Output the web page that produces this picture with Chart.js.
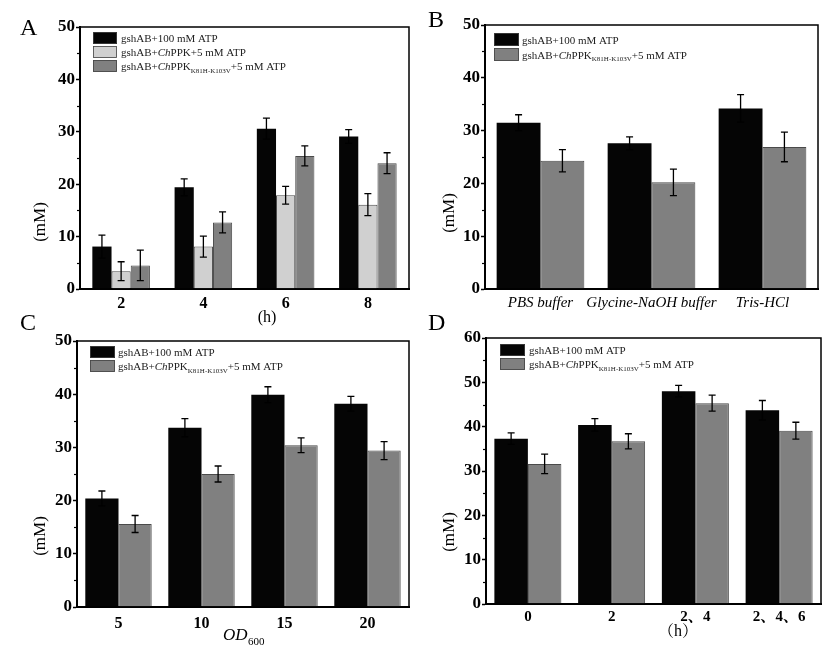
<!DOCTYPE html>
<html><head><meta charset="utf-8">
<script src="https://cdn.jsdelivr.net/npm/chart.js@4"></script>
<style>
html,body{margin:0;padding:0;background:#fff;width:830px;height:652px;overflow:hidden;position:relative;}
canvas{position:absolute;}
</style></head><body>
<canvas id="cA" width="415" height="330" style="left:0;top:0"></canvas>
<canvas id="cB" width="415" height="330" style="left:415px;top:0"></canvas>
<canvas id="cC" width="415" height="347" style="left:0;top:305px"></canvas>
<canvas id="cD" width="415" height="347" style="left:415px;top:305px"></canvas>
<script>
// ---- Data ----
const hoursA = ['2', '4', '6', '8'];
const atp100A = [8.1, 19.4, 30.6, 29.1];
const atp100A_err = [2.2, 1.6, 2.0, 1.3];
const chPPKA = [3.4, 8.1, 17.9, 16.1];
const chPPKA_err = [1.8, 2.0, 1.7, 2.1];
const mutA = [4.5, 12.7, 25.4, 24.0];
const mutA_err = [2.9, 2.0, 1.9, 2.0];

const buffersB = ['PBS buffer', 'Glycine-NaOH buffer', 'Tris-HCl'];
const atp100B = [31.5, 27.6, 34.2];
const atp100B_err = [1.5, 1.2, 2.6];
const mutB = [24.3, 20.2, 26.9];
const mutB_err = [2.1, 2.5, 2.8];

const odC = ['5', '10', '15', '20'];
const atp100C = [20.4, 33.7, 39.9, 38.2];
const atp100C_err = [1.4, 1.7, 1.5, 1.4];
const mutC = [15.6, 25.0, 30.4, 29.4];
const mutC_err = [1.6, 1.5, 1.4, 1.7];

const feedD = ['0', '2', '2、4', '2、4、6'];
const atp100D = [37.3, 40.4, 48.0, 43.7];
const atp100D_err = [1.3, 1.4, 1.3, 2.2];
const mutD = [31.6, 36.7, 45.3, 39.1];
const mutD_err = [2.2, 1.7, 1.8, 1.9];

// series names (segments: i = italic, sub = subscript)
const nameATP = [{t:'gshAB+100 mM ATP'}];
const nameChPPK = [{t:'gshAB+'},{t:'Ch',i:true},{t:'PPK+5 mM ATP'}];
const nameMut = [{t:'gshAB+'},{t:'Ch',i:true},{t:'PPK'},{t:'K81H-K103V',sub:true},{t:'+5 mM ATP'}];

const COL_BLACK = '#050505', COL_LIGHT = '#d0d0d0', COL_DARK = '#808080';
const SERIF = "'Liberation Serif','Times New Roman','Noto Serif CJK SC','Noto Sans CJK SC',serif";

function txt(s) { return s.map(x => x.t).join(''); }

const deco = {
  cA: {letter:{t:'A',x:20,y:35}, yTitle:{x:41,y:222},
       legend:{x:93,y:32,w:24,h:12,gap:14,tx:121, items:[[nameATP,COL_BLACK],[nameChPPK,COL_LIGHT],[nameMut,COL_DARK]]},
       xTitle:[{t:'(h)',x:267,y:322,font:'16px '+SERIF,align:'center'}]},
  cB: {letter:{t:'B',x:13,y:27}, yTitle:{x:35,y:213},
       legend:{x:79,y:33,w:25,h:13,gap:15,tx:107, items:[[nameATP,COL_BLACK],[nameMut,COL_DARK]]},
       xTitle:[]},
  cC: {letter:{t:'C',x:20,y:25}, yTitle:{x:41,y:231},
       legend:{x:90,y:41,w:25,h:12,gap:14,tx:118, items:[[nameATP,COL_BLACK],[nameMut,COL_DARK]]},
       xTitle:[{t:'OD',x:223,y:335,font:'italic 17px '+SERIF,align:'left'},{t:'600',x:248,y:340,font:'11px '+SERIF,align:'left'}]},
  cD: {letter:{t:'D',x:13,y:25}, yTitle:{x:35,y:227},
       legend:{x:85,y:39,w:25,h:12,gap:14,tx:114, items:[[nameATP,COL_BLACK],[nameMut,COL_DARK]]},
       xTitle:[{t:'（h）',x:263,y:331,font:'16px '+SERIF,align:'center'}]}
};

const decoPlugin = {
  id: 'deco',
  afterDatasetsDraw(chart) {
    const ctx = chart.ctx, ys = chart.scales.y;
    ctx.save();
    ctx.strokeStyle = '#000';
    ctx.lineWidth = 1.3;
    chart.data.datasets.forEach((ds, di) => {
      const meta = chart.getDatasetMeta(di);
      meta.data.forEach((bar, i) => {
        const v = ds.data[i], e = ds.errorBars[i];
        const yt = ys.getPixelForValue(v + e), yb = ys.getPixelForValue(v - e);
        const x = bar.x, cw = 3.5;
        ctx.beginPath();
        ctx.moveTo(x, yt); ctx.lineTo(x, yb);
        ctx.moveTo(x - cw, yt); ctx.lineTo(x + cw, yt);
        ctx.moveTo(x - cw, yb); ctx.lineTo(x + cw, yb);
        ctx.stroke();
      });
    });
    ctx.restore();
  },
  afterDraw(chart) {
    const cfg = deco[chart.canvas.id];
    const ctx = chart.ctx, a = chart.chartArea, ys = chart.scales.y;
    ctx.save();
    // frame
    ctx.strokeStyle = '#000';
    ctx.lineWidth = 1.5;
    ctx.strokeRect(a.left, a.top, a.right - a.left, a.bottom - a.top);
    // minor ticks
    ctx.lineWidth = 1.2;
    for (let v = 5; v < ys.max; v += 10) {
      const y = Math.round(ys.getPixelForValue(v)) + 0.5;
      ctx.beginPath(); ctx.moveTo(a.left, y); ctx.lineTo(a.left - 3, y); ctx.stroke();
    }
    // legend
    const L = cfg.legend;
    L.items.forEach((it, k) => {
      const y = L.y + k * L.gap;
      ctx.fillStyle = it[1];
      ctx.fillRect(L.x, y, L.w, L.h);
      ctx.strokeStyle = '#444'; ctx.lineWidth = 0.8;
      ctx.strokeRect(L.x + 0.5, y + 0.5, L.w - 1, L.h - 1);
      let tx = L.tx;
      const base = y + L.h / 2 + 4;
      ctx.fillStyle = '#222';
      ctx.textAlign = 'left'; ctx.textBaseline = 'alphabetic';
      it[0].forEach(seg => {
        if (seg.sub) { ctx.font = '7px ' + SERIF; ctx.fillText(seg.t, tx, base + 2.5); }
        else { ctx.font = (seg.i ? 'italic ' : '') + '11px ' + SERIF; ctx.fillText(seg.t, tx, base); }
        tx += ctx.measureText(seg.t).width;
      });
    });
    // y title
    ctx.fillStyle = '#000';
    ctx.font = '17px ' + SERIF;
    ctx.textAlign = 'center'; ctx.textBaseline = 'middle';
    ctx.translate(cfg.yTitle.x, cfg.yTitle.y);
    ctx.rotate(-Math.PI / 2);
    ctx.fillText('(mM)', 0, 0);
    ctx.setTransform(1, 0, 0, 1, 0, 0);
    // x title
    ctx.textBaseline = 'alphabetic';
    cfg.xTitle.forEach(s => { ctx.font = s.font; ctx.textAlign = s.align; ctx.fillText(s.t, s.x, s.y); });
    // panel letter
    ctx.font = '24px ' + SERIF; ctx.textAlign = 'left';
    ctx.fillText(cfg.letter.t, cfg.letter.x, cfg.letter.y);
    ctx.restore();
  }
};

function ds(label, data, err, color, bordered) {
  return {label, data, errorBars: err, backgroundColor: color,
          borderColor: bordered ? '#4a4a4a' : color, borderWidth: bordered ? 1 : 0};
}

function makeChart(id, labels, datasets, c) {
  return new Chart(document.getElementById(id), {
    type: 'bar',
    data: {labels, datasets},
    options: {
      responsive: false, animation: false, devicePixelRatio: 1,
      layout: {padding: {top: c.padTop, right: c.padRight, left: 0, bottom: 0}},
      plugins: {legend: {display: false}, tooltip: {enabled: false}},
      datasets: {bar: {categoryPercentage: c.cat, barPercentage: 1}},
      scales: {
        x: {
          grid: {display: true, drawOnChartArea: false, drawTicks: false},
          border: {color: '#000', width: 2},
          ticks: {color: '#000', font: c.xFont, padding: c.xPad, maxRotation: 0, autoSkip: false},
          afterFit(s) { s.height = c.xH; }
        },
        y: {
          min: 0, max: c.yMax,
          grid: {drawOnChartArea: false, drawTicks: true, tickLength: 4, color: '#000', tickWidth: 1.5},
          border: {color: '#000', width: 2},
          ticks: {stepSize: 10, color: '#000', padding: 1, font: {family: SERIF, weight: 'bold', size: 17}},
          afterFit(s) { s.width = c.yW; }
        }
      }
    },
    plugins: [decoPlugin]
  });
}

const boldX = {family: SERIF, weight: 'bold', size: 16};

makeChart('cA', hoursA, [
  ds(txt(nameATP), atp100A, atp100A_err, COL_BLACK, false),
  ds(txt(nameChPPK), chPPKA, chPPKA_err, COL_LIGHT, true),
  ds(txt(nameMut), mutA, mutA_err, COL_DARK, true)
], {padTop: 27, padRight: 6, yW: 80, xH: 41, cat: 0.70, yMax: 50, xFont: boldX, xPad: 5});

makeChart('cB', buffersB, [
  ds(txt(nameATP), atp100B, atp100B_err, COL_BLACK, false),
  ds(txt(nameMut), mutB, mutB_err, COL_DARK, true)
], {padTop: 25, padRight: 12, yW: 70, xH: 41, cat: 0.79, yMax: 50,
    xFont: {family: SERIF, style: 'italic', weight: 'normal', size: 15}, xPad: 5});

makeChart('cC', odC, [
  ds(txt(nameATP), atp100C, atp100C_err, COL_BLACK, false),
  ds(txt(nameMut), mutC, mutC_err, COL_DARK, true)
], {padTop: 36, padRight: 6, yW: 77, xH: 45, cat: 0.80, yMax: 50, xFont: boldX, xPad: 7});

makeChart('cD', feedD, [
  ds(txt(nameATP), atp100D, atp100D_err, COL_BLACK, false),
  ds(txt(nameMut), mutD, mutD_err, COL_DARK, true)
], {padTop: 33, padRight: 9, yW: 71, xH: 48, cat: 0.80, yMax: 60,
    xFont: {family: SERIF, weight: 'bold', size: 15}, xPad: 4});
</script>
</body></html>
